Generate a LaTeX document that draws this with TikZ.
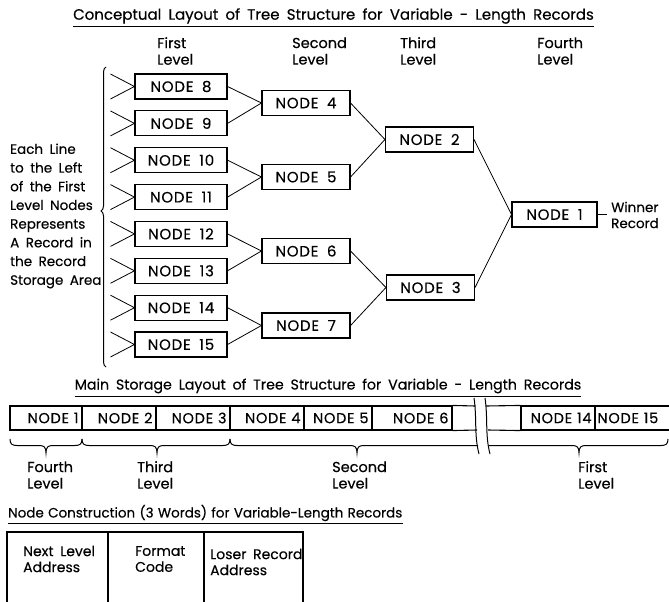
\documentclass[tikz,border=0pt]{standalone}
\usepackage{fontspec}
\setmainfont{Poppins}[WordSpace=1.8, FakeBold=0.3]
\newfontfamily\tightfont{Poppins}[WordSpace=1.2, FakeBold=0.3]
\usetikzlibrary{decorations.pathreplacing,calc}
\tikzset{
  txt/.style={inner sep=0pt, font=\fontsize{14.5}{16.5}\selectfont},
  box/.style={draw, line width=1.1pt, inner sep=0pt, minimum height=25pt,
    font=\fontsize{15}{16}\selectfont\addfontfeatures{LetterSpace=5}},
  cell/.style={draw, line width=1.1pt, inner xsep=3.5pt, inner ysep=0pt, minimum height=24pt, align=right,
    font=\fontsize{14.5}{16}\selectfont\addfontfeatures{LetterSpace=5}},
  conn/.style={line width=0.8pt},
  ln/.style={line width=1pt}
}
\newcommand\mybrace[3]{%
 \draw[ln] (#1,439) .. controls (#1,444) and (#1+2,445.5) .. (#1+7,445.5) -- (#2-7,445.5)
   .. controls (#2-2,445.5) and (#2,447) .. (#2,453)
   .. controls (#2,447) and (#2+2,445.5) .. (#2+7,445.5) -- (#3-7,445.5)
   .. controls (#3-2,445.5) and (#3,444) .. (#3,439);}
\begin{document}
\begin{tikzpicture}[x=1pt,y=-1pt]
\useasboundingbox (0,0) rectangle (669,602);

% ---------- Title 1
\node[txt, font=\fontsize{15}{16.5}\selectfont] (t1) at (333.5,16) {Conceptual Layout of Tree Structure for Variable - Length Records};
\draw[ln] (t1.west |- 0,27) -- (t1.east |- 0,27);

% level headings
\node[txt, anchor=west, align=left] (h1) at (157,51) {First\\Level};
\node[txt, anchor=west, align=left] (h2) at (292,51) {Second\\Level};
\node[txt, anchor=west, align=left] (h3) at (400,51) {Third\\Level};
\node[txt, anchor=west, align=left] (h4) at (537,51) {Fourth\\Level};

% first level
\node[box, minimum width=92pt] (n8)  at (181,86.5)  {NODE 8};
\node[box, minimum width=92pt] (n9)  at (181,123.4) {NODE 9};
\node[box, minimum width=92pt] (n10) at (181,160.2) {NODE 10};
\node[box, minimum width=92pt] (n11) at (181,197.1) {NODE 11};
\node[box, minimum width=92pt] (n12) at (181,233.9) {NODE 12};
\node[box, minimum width=92pt] (n13) at (181,270.8) {NODE 13};
\node[box, minimum width=92pt] (n14) at (181,307.7) {NODE 14};
\node[box, minimum width=92pt] (n15) at (181,344.5) {NODE 15};
% second level
\node[box, minimum width=88pt] (n4) at (306,103)   {NODE 4};
\node[box, minimum width=88pt] (n5) at (306,177)   {NODE 5};
\node[box, minimum width=88pt] (n6) at (306,251)   {NODE 6};
\node[box, minimum width=88pt] (n7) at (306,325.5) {NODE 7};
% third level
\node[box, minimum width=88pt] (n2) at (429.5,139.5) {NODE 2};
\node[box, minimum width=88pt] (n3) at (430.5,287.5) {NODE 3};
% fourth level
\node[box, minimum width=85pt] (n1) at (554.5,214.5) {NODE 1};

% connectors
\foreach \a/\b in {n8/n4,n9/n4,n10/n5,n11/n5,n12/n6,n13/n6,n14/n7,n15/n7,n4/n2,n5/n2,n6/n3,n7/n3,n2/n1,n3/n1}
  \draw[conn] (\a.east) -- (\b.west);

% record lines on the left of first-level nodes
\foreach \n in {n8,n9,n10,n11,n12,n13,n14,n15}
  \draw[conn] ($(\n.west)+(-24,-12.5)$) -- (\n.west) -- ($(\n.west)+(-24,12.5)$);

% big brace
\draw[ln, decorate, decoration={brace, amplitude=5pt, aspect=0.52}] (106,367) -- (106,67);

% left explanation
\node[txt, anchor=west, align=left, font=\fontsize{13.5}{18.7}\selectfont] (expl) at (10,216)
 {Each Line\\to the Left\\of the First\\Level Nodes\\Represents\\A Record in\\the Record\\Storage Area};

% winner
\coordinate (w) at (607,214.5);
\draw[conn] (n1.east) -- (w);
\node[txt, anchor=west, align=left, font=\fontsize{13.5}{16}\selectfont] (win) at (611,215) {Winner\\Record};

% ---------- Title 2
\node[txt, font=\fontsize{14.2}{16.5}\selectfont] (t2) at (328,386) {Main Storage Layout of Tree Structure for Variable - Length Records};
\draw[ln] (t2.west |- 0,396) -- (t2.east |- 0,396);

% storage row
\node[cell, text width=65pt] (s1)  at (46,418)  {NODE 1};
\node[cell, text width=67pt] (s2)  at (119,418) {NODE 2};
\node[cell, text width=67pt] (s3)  at (193,418) {NODE 3};
\node[cell, text width=67pt] (s4)  at (267,418) {NODE 4};
\node[cell, text width=61pt] (s5)  at (338,418) {NODE 5};
\node[cell, text width=73pt] (s6)  at (412,418) {NODE 6};
\node[cell, text width=67pt] (s14) at (558,418) {NODE 14};
\node[cell, text width=73pt, align=left, inner xsep=3pt] (s15) at (634,418) {NODE 15};
\draw[line width=1.1pt] (s6.north east) -- (475.5,406);
\draw[line width=1.1pt] (s6.south east) -- (477,430);
\draw[line width=1.1pt] (486,406) -- (s14.north west);
\draw[line width=1.1pt] (488,430) -- (s14.south west);
% break lines
\draw[ln] (474,398) .. controls (477,418) and (474,435) .. (479,454);
\draw[ln] (485,398) .. controls (488,418) and (485,435) .. (490,454);

% braces below
\mybrace{10}{46}{82}
\mybrace{82}{157}{230}
\draw[ln] (230,439) .. controls (230,444) and (232,445.5) .. (237,445.5) -- (350,445.5)
   .. controls (355,445.5) and (357,447) .. (357,453)
   .. controls (357,447) and (359,445.5) .. (364,445.5) -- (478,445.5);
\draw[ln] (489,445.5) -- (572,445.5)
   .. controls (577,445.5) and (579,447) .. (579,453)
   .. controls (579,447) and (581,445.5) .. (586,445.5) -- (661,445.5)
   .. controls (666,445.5) and (668,444) .. (668,439);

% level labels below
\node[txt, anchor=west, align=left] (b4) at (27,475)  {Fourth\\Level};
\node[txt, anchor=west, align=left] (b3) at (137,475) {Third\\Level};
\node[txt, anchor=west, align=left] (b2) at (332,475) {Second\\Level};
\node[txt, anchor=west, align=left] (b1) at (578,475) {First\\Level};

% ---------- Title 3
\node[txt, anchor=west, font=\tightfont\fontsize{13.5}{16}\selectfont] (t3) at (8,513) {Node Construction (3 Words) for Variable-Length Records};
\draw[ln] (t3.west |- 0,523) -- (t3.east |- 0,523);

% node construction
\draw[line width=1.1pt] (7,602) -- (7,532) -- (303,532) -- (303,602);
\draw[line width=1.1pt] (108,532) -- (108,602);
\draw[line width=1.1pt] (204,532) -- (204,602);
\node[txt, anchor=west, align=left, font=\fontsize{14}{16}\selectfont] (c1) at (23,559) {Next Level\\Address};
\node[txt, anchor=west, align=left, font=\fontsize{14}{16}\selectfont] (c2) at (135,559) {Format\\Code};
\node[txt, anchor=west, align=left, font=\fontsize{14}{16}\selectfont] (c3) at (210,562) {Loser Record\\Address};
\end{tikzpicture}
\end{document}
